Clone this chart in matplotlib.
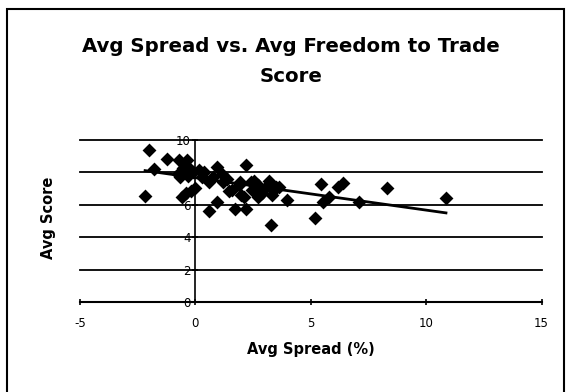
import matplotlib.pyplot as plt
from matplotlib.patches import Rectangle

# average spread (%) and average freedom-to-trade score per country
spread = [-2.02, -2.2, -1.8, -1.23, -0.72, -0.36, -0.76, -0.52, -0.28, -0.68,
          -0.6, -0.4, -0.2, 0.0, -0.1, 0.15, 0.37, 0.95, 0.59, 0.75,
          1.14, 1.37, 0.59, 0.95, 1.46, 2.18, 1.9, 1.93, 2.4, 2.56,
          1.72, 2.2, 2.09, 1.97, 2.47, 2.72, 3.2, 3.05, 2.9, 3.51,
          3.63, 2.88, 3.27, 3.99, 5.2, 5.45, 5.55, 5.81, 6.16, 6.38,
          7.11, 8.3, 10.86, 3.3, 3.4, 1.2, 0.3, 2.7, 1.6, -0.3]
score = [9.36, 6.57, 8.2, 8.85, 8.75, 8.75, 7.9, 8.3, 8.3, 7.74,
         6.47, 6.7, 6.85, 7.05, 8.0, 8.13, 8.03, 8.33, 7.4, 7.7,
         7.9, 7.62, 5.6, 6.2, 6.88, 8.44, 7.2, 7.39, 7.39, 7.5,
         5.75, 5.77, 6.47, 6.6, 6.9, 6.47, 7.5, 7.1, 6.7, 7.08,
         7.1, 6.88, 4.75, 6.32, 5.21, 7.31, 6.2, 6.47, 7.1, 7.35,
         6.2, 7.06, 6.44, 6.6, 6.9, 7.4, 7.7, 7.2, 6.9, 7.8]

# linear trendline end points as drawn in the chart
trend_x = [-2.18, 10.86]
trend_y = [8.11, 5.5]

x_ticks = [-5, 0, 5, 10, 15]
y_ticks = [0, 2, 4, 6, 8, 10]

plt.rcParams['font.family'] = ['DejaVu Sans']
plt.rcParams['axes.unicode_minus'] = False

fig = plt.figure(figsize=(5.71, 3.92), dpi=100)
ax = fig.add_axes([80 / 571, 1 - 302 / 392, 461.5 / 571, 162 / 392])

# horizontal gridlines
for yv in y_ticks[1:]:
    ax.axhline(yv, color='black', lw=1.3, zorder=1, clip_on=False)

ax.scatter(spread, score, marker='D', s=50, color='black', zorder=3,
           linewidths=0)
ax.plot(trend_x, trend_y, color='black', lw=2, zorder=2)

ax.set_xlim(-5, 15)
ax.set_ylim(0, 10)
ax.set_xticks(x_ticks)
ax.set_yticks(y_ticks)

for s in ['top', 'right']:
    ax.spines[s].set_visible(False)
ax.spines['left'].set_position(('data', 0))
ax.spines['left'].set_linewidth(1.2)
ax.spines['bottom'].set_linewidth(1.5)
ax.tick_params(axis='both', direction='inout', length=5, width=1.2,
               labelsize=8.5, colors='black')
ax.tick_params(axis='x', pad=8)
ax.tick_params(axis='y', pad=1)

ax.set_xlabel('Avg Spread (%)', fontsize=10.5, fontweight='bold', labelpad=9)
fig.text(49 / 571, 1 - 218 / 392, 'Avg Score', rotation=90, fontsize=10.5,
         fontweight='bold', ha='center', va='center')

fig.text(291 / 571, 1 - 47 / 392, 'Avg Spread vs. Avg Freedom to Trade',
         fontsize=14.2, fontweight='bold', ha='center', va='center')
fig.text(291 / 571, 1 - 77 / 392, 'Score',
         fontsize=14.2, fontweight='bold', ha='center', va='center')

# chart area border
fig.patches.append(Rectangle((7 / 571, -0.1), 557 / 571, 1.1 - 9 / 392,
                             transform=fig.transFigure, fill=False,
                             edgecolor='black', lw=1.5))

fig.savefig('out.png', dpi=100)
